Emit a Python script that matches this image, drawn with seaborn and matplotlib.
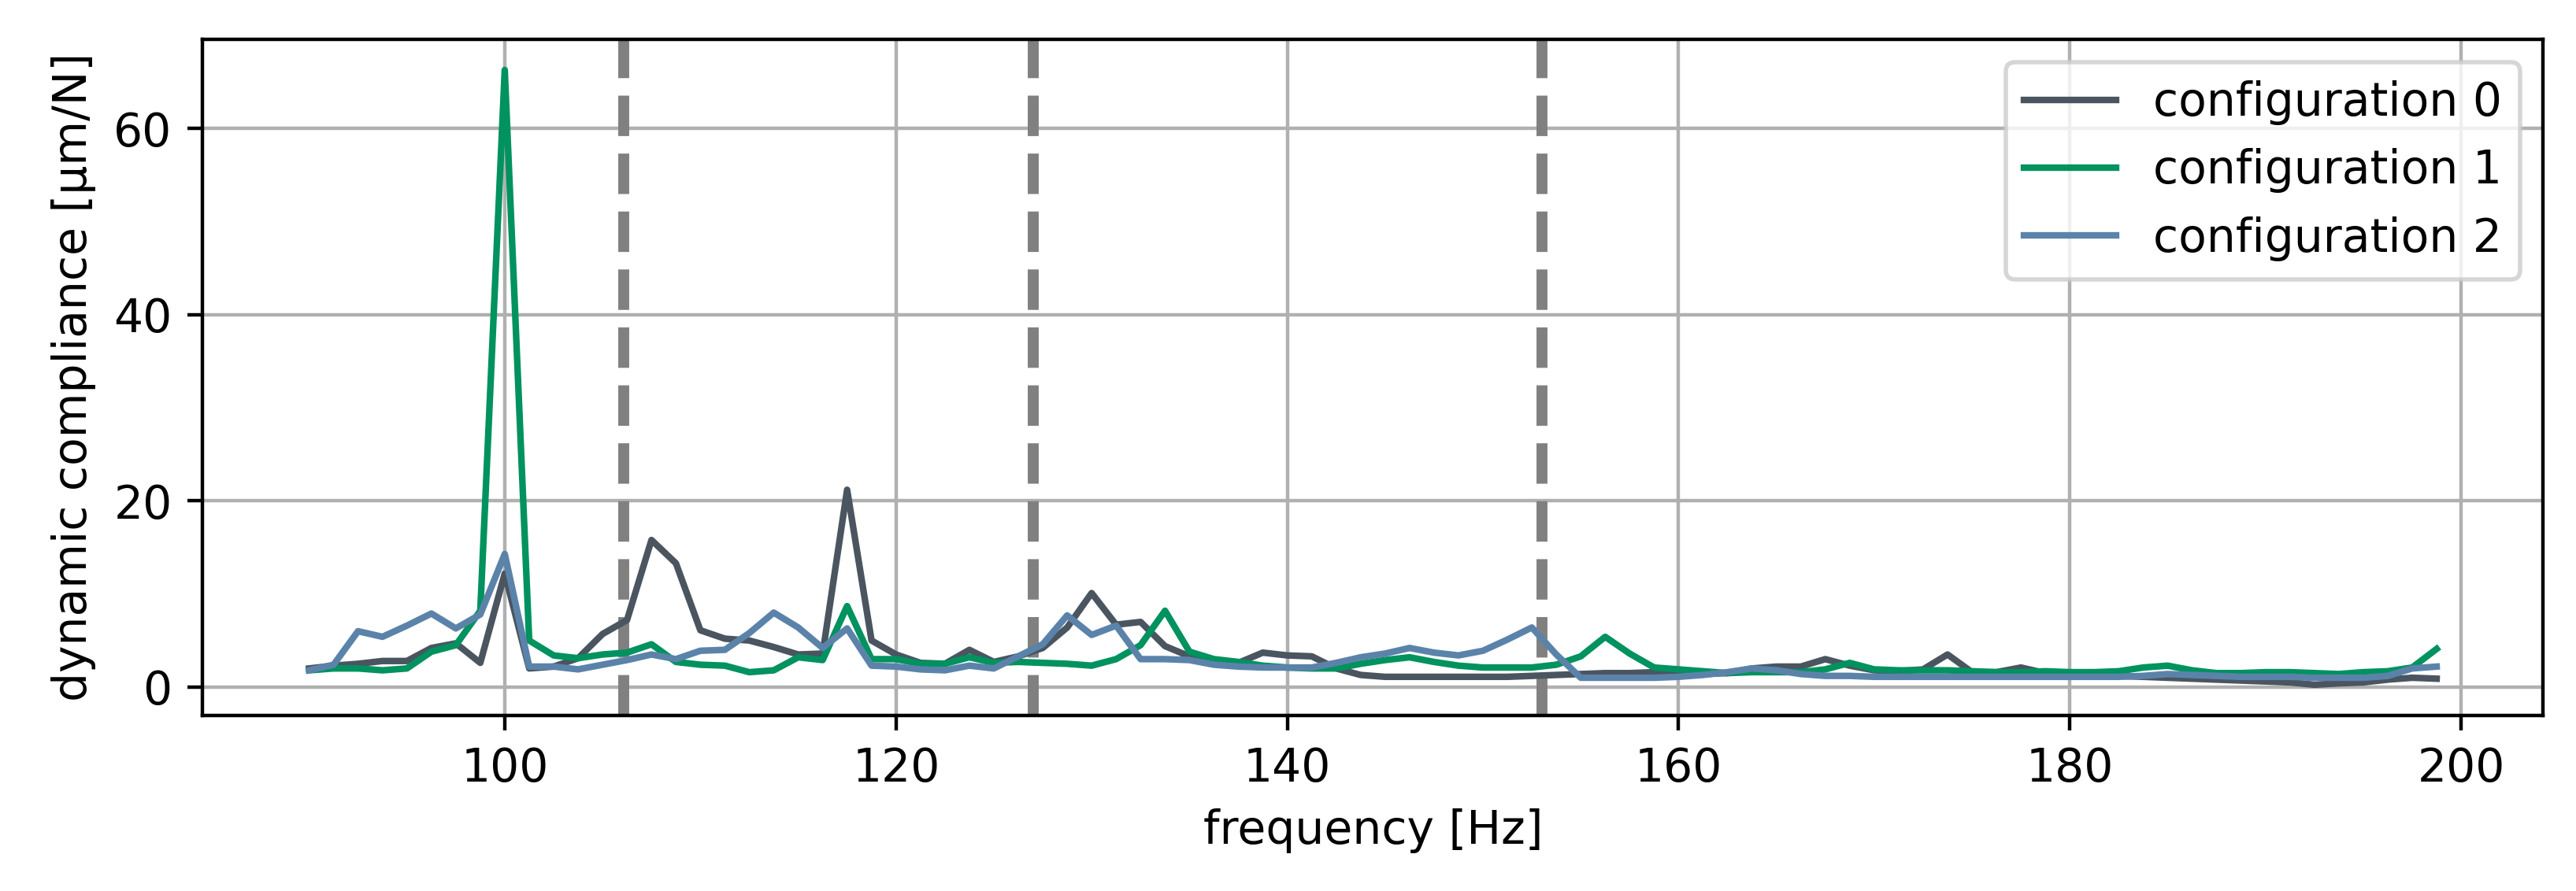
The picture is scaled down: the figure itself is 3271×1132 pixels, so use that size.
import matplotlib
matplotlib.use('Agg')
import matplotlib.pyplot as plt
import seaborn as sns
import pandas as pd
import numpy as np

# frequency grid (Hz), 1.25 Hz spacing
freq = [90 + 1.25 * i for i in range(88)]

config_0 = [2.0, 2.3, 2.5, 2.8, 2.8, 4.2, 4.7, 2.6, 12.2, 2.0,
            2.2, 3.1, 5.7, 7.2, 15.8, 13.3, 6.1, 5.2, 5.0, 4.3,
            3.5, 3.6, 21.2, 5.0, 3.5, 2.6, 2.5, 4.0, 2.7, 3.3,
            4.2, 6.4, 10.1, 6.7, 7.0, 4.4, 3.3, 2.7, 2.6, 3.7,
            3.4, 3.3, 2.0, 1.3, 1.1, 1.1, 1.1, 1.1, 1.1, 1.1,
            1.2, 1.3, 1.4, 1.5, 1.5, 1.6, 1.5, 1.4, 1.5, 2.0,
            2.2, 2.2, 3.0, 2.3, 1.8, 1.7, 1.9, 3.5, 1.6, 1.6,
            2.1, 1.5, 1.3, 1.2, 1.2, 1.1, 1.0, 0.9, 0.8, 0.7,
            0.6, 0.5, 0.25, 0.4, 0.5, 0.8, 1.0, 0.9]

config_1 = [1.8, 2.0, 2.0, 1.8, 2.0, 3.8, 4.5, 8.2, 66.3, 5.0,
            3.4, 3.1, 3.5, 3.7, 4.6, 2.7, 2.4, 2.3, 1.6, 1.8,
            3.2, 2.9, 8.7, 3.0, 3.0, 2.5, 2.5, 3.2, 2.6, 2.7,
            2.6, 2.5, 2.3, 3.0, 4.5, 8.2, 3.8, 3.0, 2.7, 2.3,
            2.1, 2.0, 2.0, 2.5, 2.9, 3.2, 2.7, 2.3, 2.1, 2.1,
            2.1, 2.4, 3.3, 5.4, 3.6, 2.1, 1.9, 1.7, 1.5, 1.6,
            1.6, 1.6, 1.9, 2.6, 1.9, 1.8, 1.8, 1.8, 1.7, 1.6,
            1.6, 1.7, 1.6, 1.6, 1.7, 2.1, 2.3, 1.8, 1.5, 1.5,
            1.6, 1.6, 1.5, 1.4, 1.6, 1.7, 2.1, 4.1]

config_2 = [1.8, 2.4, 6.0, 5.4, 6.6, 7.9, 6.3, 7.8, 14.3, 2.2,
            2.2, 1.9, 2.4, 2.9, 3.5, 3.0, 3.9, 4.0, 5.8, 8.0,
            6.4, 4.2, 6.3, 2.3, 2.2, 1.9, 1.8, 2.3, 2.0, 3.3,
            4.6, 7.7, 5.6, 6.6, 3.0, 3.0, 2.9, 2.4, 2.2, 2.1,
            2.1, 2.1, 2.6, 3.2, 3.6, 4.2, 3.7, 3.4, 3.9, 5.1,
            6.4, 3.5, 1.0, 1.0, 1.0, 1.0, 1.1, 1.3, 1.6, 2.0,
            1.8, 1.4, 1.2, 1.2, 1.1, 1.1, 1.1, 1.1, 1.1, 1.1,
            1.1, 1.1, 1.1, 1.1, 1.1, 1.2, 1.4, 1.3, 1.2, 1.1,
            1.1, 1.1, 1.0, 1.0, 1.0, 1.2, 2.0, 2.2]

labels = ['configuration 0', 'configuration 1', 'configuration 2']
colors = ['#4a5560', '#00925f', '#5b83aa']
boundaries = [106.1, 127.0, 153.0]

df = pd.concat([
    pd.DataFrame({'frequency': freq, 'compliance': vals, 'config': lab})
    for vals, lab in zip([config_0, config_1, config_2], labels)
])

plt.rcParams['font.size'] = 10.5
fig, ax = plt.subplots(figsize=(3271 / 400, 1132 / 400), dpi=400)
fig.subplots_adjust(left=0.0787, right=0.9872, bottom=0.197, top=0.956)

for b in boundaries:
    ax.axvline(b, color='grey', linestyle='--', linewidth=2.5)

sns.lineplot(data=df, x='frequency', y='compliance', hue='config',
             palette=colors, linewidth=1.5, ax=ax)

handles, labs = ax.get_legend_handles_labels()
ax.legend(handles, labs, loc='upper right')
ax.grid(True)
ax.set_xlabel('frequency [Hz]')
ax.set_ylabel('dynamic compliance [μm/N]')

fig.savefig('out.png', dpi=400)
